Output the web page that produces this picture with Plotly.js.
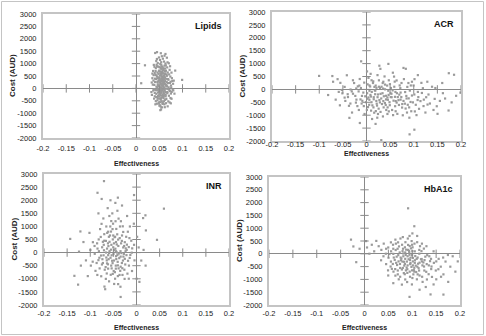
<!DOCTYPE html>
<html><head><meta charset="utf-8">
<script src="https://cdn.plot.ly/plotly-3.0.1.min.js"></script>
<style>html,body{margin:0;padding:0;background:#fff;}#chart{width:486px;height:336px;}</style>
</head><body><div id="chart"></div>
<script>
// ---------- data ----------
const xTickVals = [-0.2,-0.15,-0.1,-0.05,0,0.05,0.1,0.15,0.2];
const xTickText = ["-0.2","-0.15","-0.1","-0.05","0","0.05","0.1","0.15","0.2"];
const yTickVals = [-2000,-1500,-1000,-500,0,500,1000,1500,2000,2500,3000];
const yTickText = ["-2000","-1500","-1000","-500","0","500","1000","1500","2000","2500","3000"];
const panelNames = ["Lipids","ACR","INR","HbA1c"];

const lipids = [
[0.0553,312],[0.0487,118],[0.0621,447],[0.0514,-196],[0.0583,812],[0.0442,523],[0.0668,86],[0.0529,-457],[0.0604,228],[0.0493,694],
[0.0561,-83],[0.0637,-318],[0.0458,262],[0.0522,983],[0.0589,607],[0.0413,-47],[0.0697,352],[0.0541,146],[0.0572,-624],[0.0506,418],
[0.0643,716],[0.0474,-303],[0.0612,37],[0.0536,558],[0.0451,884],[0.0676,-148],[0.0579,343],[0.0517,1147],[0.0548,-381],[0.0626,183],
[0.0432,377],[0.0659,563],[0.0496,-127],[0.0564,662],[0.0601,-518],[0.0524,247],[0.0718,-62],[0.0468,1018],[0.0586,93],[0.0543,788],
[0.0638,-253],[0.0503,-697],[0.0567,468],[0.0394,142],[0.0615,918],[0.0531,-22],[0.0687,213],[0.0462,-476],[0.0556,1296],[0.0593,-178],
[0.0484,587],[0.0629,298],[0.0511,63],[0.0739,477],[0.0558,-763],[0.0437,-218],[0.0603,1083],[0.0519,-557],[0.0652,-423],[0.0574,187],
[0.0421,703],[0.0671,847],[0.0545,392],[0.0489,328],[0.0618,-88],[0.0581,-342],[0.0457,33],[0.0534,1418],[0.0708,-297],[0.0551,623],
[0.0597,498],[0.0501,857],[0.0644,108],[0.0472,413],[0.0569,-38],[0.0526,-263],[0.0682,642],[0.0448,-617],[0.0592,753],[0.0539,-847],
[0.0633,1003],[0.0409,258],[0.0562,273],[0.0498,-407],[0.0657,-12],[0.0533,683],[0.0611,-643],[0.0481,-27],[0.0578,1198],[0.0752,117],
[0.0443,952],[0.0549,-133],[0.0623,577],[0.0512,347],[0.0694,-522],[0.0571,878],[0.0467,168],[0.0606,-217],[0.0528,18],[0.0648,387],
[0.0492,-563],[0.0584,437],[0.0428,-73],[0.0542,1057],[0.0627,-462],[0.0507,238],[0.0723,748],[0.0563,102],[0.0461,638],[0.0609,282],
[0.0518,-683],[0.0673,-193],[0.0552,482],[0.0588,-43],[0.0478,883],[0.0641,928],[0.0509,-327],[0.0576,598],[0.0404,-318],[0.0619,-758],
[0.0537,308],[0.0702,43],[0.0453,472],[0.0582,-603],[0.0546,537],[0.0661,253],[0.0494,1247],[0.0598,163],[0.0521,-98],[0.0631,677],
[0.0473,-167],[0.0559,-298],[0.0679,1052],[0.0502,722],[0.0554,-517],[0.0613,1317],[0.0439,72],[0.0573,348],[0.0532,-737],[0.0731,-107],
[0.0594,-397],[0.0483,283],[0.0646,-597],[0.0513,513],[0.0464,-388],[0.0624,802],[0.0547,878],[0.0689,372],[0.0418,543],[0.0587,208],
[0.0566,402],[0.0527,193],[0.0595,-127],[0.0541,33],[0.0608,512],[0.0499,-248],[0.0577,728],[0.0535,-412],[0.0616,-23],[0.0486,443],
[0.0568,-573],[0.0523,612],[0.0653,142],[0.0508,-88],[0.0582,283],[0.0544,952],[0.0599,-298],[0.0475,98],[0.0639,-147],[0.0557,173],
[0.0516,-21],[0.0602,373],[0.0538,-178],[0.0663,507],[0.0491,-613],[0.0573,-243],[0.0529,832],[0.0617,693],[0.0466,-73],[0.0585,58],
[0.0352,412],[0.0371,-87],[0.0338,238],[0.0367,703],[0.0389,-412],[0.0361,152],[0.0378,533],[0.0342,-263],[0.0397,872],[0.0383,-38],
[0.0751,-207],[0.0772,412],[0.0788,-53],[0.0763,637],[0.0745,268],[0.0797,187],[0.0742,-388],[0.0768,-142],[0.0812,312],[0.0733,893],
[0.0724,-567],[0.0713,563],[0.0706,1012],[0.0426,-512],[0.0417,-642],[0.0436,1103],[0.0403,617],[0.0411,393],[0.0729,218],[0.0757,38],
[0.0681,-723],[0.0434,-347],[0.0449,1187],[0.0664,1238],[0.0692,-27],[0.0403,-183],[0.0376,318],[0.0827,-212],[0.0749,-602],[0.0426,817],
[0.0992,343],[0.0193,931],[0.0112,208],[0.0634,1388],[0.0452,1462],[0.0413,1427],[0.0843,718],[0.0802,-82],[0.0781,302],[0.0352,597],
[0.0331,-148],[0.0523,-877],[0.0764,-418],[0.0383,948]
];

const acr = [
[0.0112,-97],[0.0287,53],[-0.0184,118],[0.0513,-296],[0.0208,-447],[0.0694,-203],[0.0023,197],[0.0407,-603],[-0.0096,-252],[0.0588,103],
[0.0893,-348],[0.0147,-697],[-0.0312,-78],[0.0356,297],[0.0812,-553],[0.1087,-98],[0.0243,-197],[-0.0143,403],[0.0542,-798],[0.0461,-52],
[0.0637,347],[0.0061,-402],[0.0996,152],[-0.0392,-297],[0.0753,-703],[0.0194,148],[0.1213,-397],[0.0382,502],[-0.0057,-648],[0.0864,97],
[0.0312,-352],[0.0947,-847],[-0.0262,247],[0.0618,-452],[0.0087,603],[0.1312,-198],[0.0496,203],[-0.0341,-548],[0.0716,48],[0.0163,-903],
[0.1043,-597],[0.0339,-148],[-0.0118,53],[0.0792,398],[0.0443,-952],[0.0014,-148],[0.1162,253],[0.0263,352],[-0.0463,97],[0.0662,-298],
[0.0917,-47],[0.0216,-553],[0.0558,647],[-0.0213,-397],[0.1387,103],[0.0093,-278],[0.0768,-1003],[0.0412,-247],[-0.0511,-152],[0.0982,-503],
[0.0294,797],[0.0606,-652],[0.1193,47],[-0.0162,-797],[0.0843,-253],[0.0042,447],[0.0437,148],[0.1112,-753],[-0.0287,353],[0.0721,-397],
[0.0137,247],[0.0962,297],[0.0487,-497],[-0.0041,-953],[0.1342,-547],[0.0257,-747],[0.0818,-103],[-0.0416,548],[0.0597,302],[0.0348,-1048],
[0.1016,397],[-0.0012,-497],[0.1263,-303],[0.0393,3],[-0.0237,-253],[0.0653,-948],[0.0168,97],[0.0903,-697],[0.0507,-153],[-0.0587,-97],
[0.1097,-297],[0.0228,-1097],[0.0741,248],[0.0011,697],[0.1553,-447],[0.0452,-403],[-0.0103,-548],[0.0857,-897],[0.0318,103],[0.0612,-98],
[0.1207,-647],[0.0063,-53],[0.0938,152],[-0.0337,-3],[0.0687,-603],[0.0233,553],[0.1418,-797],[0.0532,-303],[-0.0193,-648],[0.1012,-197],
[0.0363,-697],[0.0783,-447],[0.0118,-1147],[0.1287,297],[0.0472,353],[-0.0448,-447],[0.0643,-148],[0.0153,-303],[0.1058,-997],[0.0517,53],
[0.1617,-147],[-0.0553,253],[0.0887,247],[0.0283,-503],[0.0737,-297],[0.0008,-797],[0.1142,-453],[0.0418,-797],[-0.0306,-897],[0.0583,497],
[0.1457,53],[0.0187,-47],[0.0873,-597],[-0.0652,-397],[0.0563,-997],[0.0107,353],[0.1023,-853],[0.0343,247],[0.1247,-897],[-0.0152,147],
[0.1663,-353],[0.0702,153],[0.0447,-697],[0.1487,-653],[0.0057,-597],[0.0907,-1097],[0.0243,-953],[-0.0707,297],[0.0617,-847],[0.1087,553],
[0.0083,-213],[0.0176,-38],[0.0273,-412],[-0.0067,-123],[0.0367,-267],[0.0143,312],[0.0042,-312],[0.0223,-628],[-0.0224,-512],[0.0327,-568],
[0.0468,-213],[0.0106,-497],[-0.0127,-388],[0.0392,187],[0.0197,-842],[0.0572,-437],[0.0032,-687],[0.0264,103],[-0.0286,-168],[0.0493,-612],
[0.0638,-512],[0.0078,112],[0.0356,-453],[-0.0048,263],[0.0183,-187],[0.0722,-123],[0.0413,-388],[0.0297,-873],[-0.0371,-637],[0.0553,-38],
[-0.0027,-268],[0.0124,-618],[0.0211,62],[-0.0167,-78],[0.0297,-172],[0.0062,153],[0.0389,-528],[-0.0088,-442],[0.0153,-383],[0.0443,-312],
[0.0234,-302],[0.0018,-362],[-0.0217,38],[0.0528,-168],[0.0352,32],[0.0097,-823],[-0.0398,-187],[0.0677,-417],[0.0603,-288],[0.0757,-568],
[0.0848,-352],[0.0932,-487],[0.1082,-412],[0.1172,-138],[0.1292,-587],[0.0962,-237],[-0.0463,-318],[-0.0523,-23],[0.0828,-742],[0.0472,-852],
[-0.1003,523],[-0.0812,-218],[-0.0723,518],[-0.0612,397],[-0.0563,-617],[-0.0362,-1103],[-0.0113,1088],[-0.0141,-1302],[0.0313,-1968],[0.0192,-1338],
[0.0912,-1742],[0.1013,-1562],[0.1742,628],[0.1853,567],[0.1988,-128],[0.1737,-818],[0.1443,-368],[0.0783,832],[0.0832,798],[0.0463,988],
[0.0272,918],[0.1897,-248],[0.1802,-503],[0.1603,248],[0.1503,-947]
];

const inr = [
[-0.0503,203],[-0.0612,-97],[-0.0397,497],[-0.0708,297],[-0.0293,-303],[-0.0552,803],[-0.0448,-497],[-0.0657,3],[-0.0212,103],[-0.0803,-197],
[-0.0357,997],[-0.0493,-703],[-0.0597,603],[-0.0253,397],[-0.0747,-453],[-0.0412,-97],[-0.0546,1203],[-0.0307,-597],[-0.0852,353],[-0.0457,147],
[-0.0147,-203],[-0.0643,-797],[-0.0518,897],[-0.0346,53],[-0.0697,703],[-0.0196,-803],[-0.0607,247],[-0.0403,-897],[-0.0903,-47],[-0.0487,-303],
[-0.0313,653],[-0.0756,1097],[-0.0443,403],[-0.0103,-3],[-0.0562,-197],[-0.0662,447],[-0.0243,-453],[-0.0797,-603],[-0.0388,1297],[-0.0617,-447],
[-0.0352,-697],[-0.0512,503],[-0.0712,-103],[-0.0153,553],[-0.0463,-997],[-0.0843,153],[-0.0287,197],[-0.0537,-603],[-0.0653,997],[-0.0207,303],
[-0.0417,697],[-0.0743,203],[-0.0497,-53],[-0.0947,-347],[-0.0343,-153],[-0.0587,1397],[-0.0257,-1003],[-0.0437,-247],[-0.0687,-653],[-0.0053,297],
[-0.0543,297],[-0.0817,503],[-0.0316,-397],[-0.0507,1103],[-0.0643,-297],[-0.0387,-603],[-0.0997,103],[-0.0217,-97],[-0.0613,797],[-0.0463,603],
[-0.0333,353],[-0.0763,-903],[-0.0557,-847],[-0.0163,-497],[-0.0887,-697],[-0.0517,-403],[-0.0297,1003],[-0.0717,1303],[-0.0423,3],[-0.0593,-1097],
[-0.0237,53],[-0.0862,-397],[-0.0437,903],[-0.0573,653],[-0.0097,-703],[-0.0637,153],[-0.0367,-853],[-0.0787,897],[-0.0487,353],[-0.0187,797],
[-0.0407,-353],[-0.0697,453],[-0.0583,53],[-0.0283,-153],[-0.0943,397],[-0.0467,-747],[-0.0537,-103],[-0.0143,997],[-0.0737,-253],[-0.0523,1497],
[-0.0363,553],[-0.0667,-553],[-0.0263,-653],[-0.0813,53],[-0.0393,253],[-0.0603,-253],[-0.0043,-297],[-0.0453,1197],[-0.0727,-397],[-0.0567,997],
[-0.0303,-853],[-0.0987,-497],[-0.0483,-1197],[-0.0223,603],[-0.0633,753],[-0.0397,-1203],[-0.0847,-853],[-0.0337,1197],[-0.0617,353],[-0.0113,453],
[-0.0773,597],[-0.0443,53],[-0.0267,253],[-0.0547,-497],[-0.0907,253],[-0.0317,447],[-0.0663,-1003],[-0.0503,653],[-0.0167,-997],[-0.0413,1597],
[-0.0693,-1297],[-0.0623,1697],[-0.0347,-1303],[-0.0823,1497],[-0.0457,1897],[-0.0313,1797],[-0.0563,1997],[-0.0203,1397],[-0.0677,-1397],[-0.1093,-297],
[-0.1053,-897],[-0.1147,403],[-0.1017,753],[0.0013,603],[0.0047,197],[0.0103,-303],[0.0153,103],[0.0197,-497],[0.0003,-997],[-0.0057,1103],
[-0.0487,92],[-0.0373,-212],[-0.0583,412],[-0.0273,-48],[-0.0653,-188],[-0.0427,312],[-0.0183,-312],[-0.0527,-312],[-0.0327,-18],[-0.0767,-112],
[-0.0403,-488],[-0.0613,-612],[-0.0233,162],[-0.0473,588],[-0.0703,88],[-0.0343,-538],[-0.0553,112],[-0.0133,-88],[-0.0443,-138],[-0.0637,-412],
[-0.0253,-238],[-0.0383,-38],[-0.0727,412],[-0.0093,162],[-0.0513,-812],[-0.0287,788],[-0.0593,-12],[-0.0167,212],[-0.0447,-612],[-0.0823,-288],
[-0.0703,2728],[-0.0843,2283],[0.0593,1677],[0.0443,487],[-0.1433,523],[-0.1243,37],[-0.1263,-1223],[-0.0343,-1693],[0.0063,-1117],[-0.1343,-887],
[-0.1213,807],[0.0143,1317],[0.0193,1423],[-0.0753,2047],[-0.0403,2097],[-0.0053,2197],[-0.1203,-497],[0.0203,847]
];

const hba1c = [
[0.0903,-97],[0.0797,103],[0.1012,-297],[0.0693,197],[0.1107,-503],[0.0853,-197],[0.0947,303],[0.0603,-3],[0.1197,-203],[0.0743,-397],
[0.1053,97],[0.0897,-603],[0.0657,397],[0.1303,-403],[0.0813,-97],[0.0987,497],[0.0553,-303],[0.1147,3],[0.0843,-797],[0.0707,-53],
[0.0957,-403],[0.1243,203],[0.0497,247],[0.1397,-597],[0.0787,353],[0.1113,-147],[0.0643,-597],[0.1023,-803],[0.0913,153],[0.0763,-253],
[0.1357,-97],[0.0447,3],[0.1043,-697],[0.0857,453],[0.1207,-897],[0.0613,-147],[0.0937,53],[0.0697,-803],[0.1163,297],[0.0803,-553],
[0.1503,-297],[0.0403,397],[0.0997,-53],[0.0653,147],[0.1293,-703],[0.0887,-303],[0.0753,597],[0.1097,-997],[0.0547,-497],[0.1447,97],
[0.0863,-47],[0.0353,153],[0.1213,-453],[0.1007,253],[0.0713,-297],[0.1597,-503],[0.0953,-897],[0.0597,353],[0.1257,-247],[0.0823,-753],
[0.1047,397],[0.0503,-153],[0.1413,-903],[0.0907,597],[0.1143,-653],[0.0663,-353],[0.1553,-197],[0.0297,297],[0.1013,-453],[0.0737,53],
[0.1347,-453],[0.0847,-397],[0.1193,103],[0.0453,-403],[0.0963,-153],[0.1103,697],[0.0717,-997],[0.1653,-803],[0.0557,97],[0.0893,-1103],
[0.1313,-53],[0.0807,197],[0.1057,-253],[0.0247,503],[0.1493,-653],[0.0647,-853],[0.0993,-1197],[0.1203,397],[0.0867,-647],[0.0397,-97],
[0.1153,-347],[0.0747,-553],[0.1453,-353],[0.0607,-697],[0.0943,697],[0.1253,-653],[0.0913,347],[0.1697,-303],[0.0493,-647],[0.1113,-803],
[0.0793,-303],[0.0203,97],[0.1343,-797],[0.1003,103],[0.0703,447],[0.1547,-603],[0.0853,-1003],[0.1217,-1097],[0.0593,-397],[0.1043,-547],
[0.1747,-47],[0.0153,353],[0.0903,-453],[0.1393,-197],[0.0647,553],[0.0997,-647],[0.1307,-1003],[0.0757,-147],[0.1147,153],[0.0453,197],
[0.1603,-897],[0.0847,253],[0.0953,-247],[0.0103,3],[0.1247,-497],[0.0553,447],[0.1093,-197],[0.0803,653],[0.1797,-503],[0.0697,-653],
[0.1053,-353],[0.1503,-997],[0.0897,-747],[0.0347,-253],[0.1203,-297],[0.0997,353],[0.1647,-147],[0.0603,197],[0.1403,-497],[0.0947,-697],
[0.0053,247],[0.1847,-97],[0.1297,297],[0.0747,-897],[0.1153,-847],[0.0853,53],[0.0497,-847],[0.1103,453],[0.1447,-1197],[0.1003,-947],
[0.0923,-213],[0.0827,-312],[0.1063,-88],[0.0773,-188],[0.0983,-512],[0.0873,162],[0.1123,-388],[0.0683,-438],[0.0943,-38],[0.1033,-638],
[0.0813,12],[0.1183,-212],[0.0723,288],[0.0963,-362],[0.1073,-462],[0.0633,-238],[0.0883,-538],[0.1273,-112],[0.0783,-612],[0.0973,212],
[0.1133,-562],[0.0523,-12],[0.1013,-162],[0.0673,-112],[0.1233,-338],[0.0833,-462],[0.0933,112],[0.1083,-712],[0.0573,-588],[0.1373,-288],
[0.0913,1777],[0.1043,1077],[-0.0283,553],[-0.0233,287],[-0.0173,-327],[0.0943,-1683],[0.1653,-1593],[0.1383,-1587],[0.1283,-1297],[0.0783,-1203],
[0.1903,-697],[0.1953,-297],[-0.0103,197],[0.0033,497],[0.1753,-1097],[0.1153,-1403],[0.0603,-1147],[0.1003,797]
];
const panelData = [lipids, acr, inr, hba1c];

// ---------- layout geometry (pixels) ----------
const W = 486, H = 336;
const boxes = [
  {x0:43, x1:229, y0:14, y1:138, xlab:2, xtit:25},
  {x0:272, x1:461, y0:12, y1:141, xlab:-5, xtit:13},
  {x0:44, x1:229, y0:174, y1:305, xlab:0, xtit:22},
  {x0:269, x1:460, y0:177, y1:305, xlab:0, xtit:22}
];
const px = v => v / W;
const py = v => 1 - v / H;

const traces = [];
const layout = {
  width: W, height: H,
  margin: {l:0, r:0, t:0, b:0},
  paper_bgcolor: '#fff', plot_bgcolor: '#fff',
  showlegend: false,
  font: {family: 'Liberation Sans, Arial, sans-serif', color: '#222', size: 8},
  annotations: [], shapes: []
};

boxes.forEach((b, i) => {
  const n = i + 1;
  const xa = 'xaxis' + (n === 1 ? '' : n), ya = 'yaxis' + (n === 1 ? '' : n);
  const xr = 'x' + (n === 1 ? '' : n), yr = 'y' + (n === 1 ? '' : n);
  layout[xa] = {
    domain: [px(b.x0), px(b.x1)], anchor: yr, range: [-0.2, 0.2],
    tickvals: xTickVals, ticktext: xTickText, ticks: '', showgrid: false,
    zeroline: true, zerolinecolor: '#8a8a8a', zerolinewidth: 1,
    showline: true, mirror: true, linecolor: '#c4c4c4', linewidth: 2,
    tickfont: {size: 7.5, color: '#222'}, ticklabelstandoff: b.xlab, fixedrange: true
  };
  layout[ya] = {
    domain: [py(b.y1), py(b.y0)], anchor: xr, range: [-2000, 3000],
    tickvals: yTickVals, ticktext: yTickText, ticks: '', showgrid: false,
    zeroline: true, zerolinecolor: '#8a8a8a', zerolinewidth: 1,
    showline: true, mirror: true, linecolor: '#c4c4c4', linewidth: 2,
    tickfont: {size: 7.5, color: '#222'}, ticklabelstandoff: 3, fixedrange: true
  };
  const pts = panelData[i];
  traces.push({
    type: 'scatter', mode: 'markers', xaxis: xr, yaxis: yr,
    x: pts.map(p => p[0]), y: pts.map(p => p[1]),
    marker: {symbol: 'square', size: 2.2, color: '#9a9a9a'},
    hoverinfo: 'skip'
  });
  traces.push({
    type: 'scatter', mode: 'markers', xaxis: xr, yaxis: yr,
    x: xTickVals, y: xTickVals.map(() => 0),
    marker: {symbol: 'line-ns', size: 6, line: {width: 1, color: '#8a8a8a'}},
    hoverinfo: 'skip', cliponaxis: false
  });
  traces.push({
    type: 'scatter', mode: 'markers', xaxis: xr, yaxis: yr,
    x: yTickVals.map(() => 0), y: yTickVals,
    marker: {symbol: 'line-ew', size: 6, line: {width: 1, color: '#8a8a8a'}},
    hoverinfo: 'skip', cliponaxis: false
  });
  layout.annotations.push({
    xref: 'paper', yref: 'paper', x: px(b.x1 - 5), y: py(b.y0 + 12),
    xanchor: 'right', yanchor: 'middle', showarrow: false,
    text: '<b>' + panelNames[i] + '</b>', font: {size: 9, color: '#111'}
  });
  layout.annotations.push({
    xref: 'paper', yref: 'paper', x: px((b.x0 + b.x1) / 2), y: py(b.y1 + b.xtit),
    xanchor: 'center', yanchor: 'middle', showarrow: false,
    text: '<b>Effectiveness</b>', font: {size: 7, color: '#222'}
  });
  layout.annotations.push({
    xref: 'paper', yref: 'paper', x: px(b.x0 - 30), y: py((b.y0 + b.y1) / 2),
    xanchor: 'center', yanchor: 'middle', showarrow: false, textangle: -90,
    text: '<b>Cost (AUD)</b>', font: {size: 8, color: '#222'}
  });
});

layout.shapes.push({
  type: 'rect', xref: 'paper', yref: 'paper',
  x0: px(1.5), x1: px(483.5), y0: py(334.5), y1: py(1.5),
  line: {color: '#c4c4c4', width: 1}
});

Plotly.newPlot('chart', traces, layout, {staticPlot: true, displayModeBar: false});
</script>
</body></html>
